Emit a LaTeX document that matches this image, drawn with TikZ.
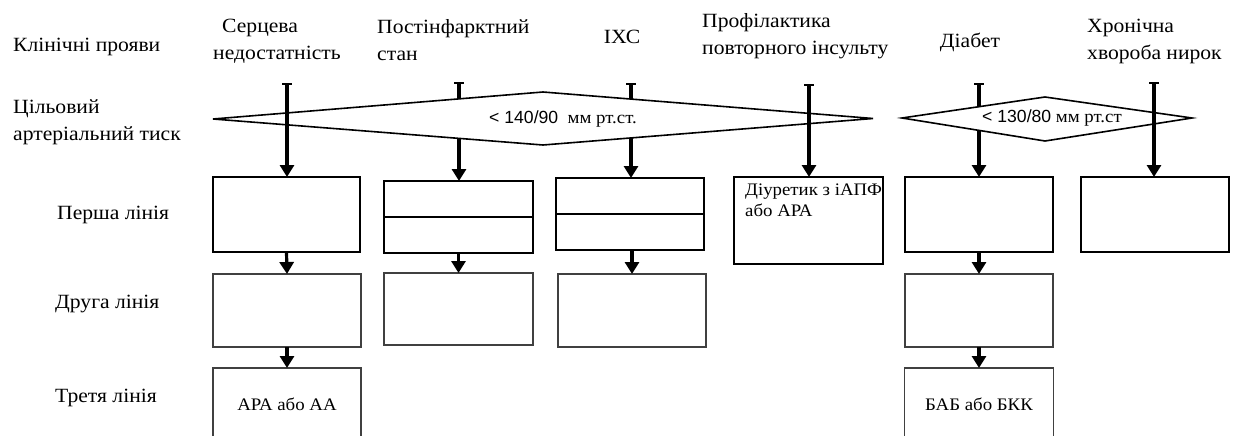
\documentclass[tikz,border=0pt]{standalone}
\usepackage{fontspec}
\setmainfont{Liberation Serif}[FakeStretch=1.07]
\newfontfamily\numfont{Liberation Sans}
\usetikzlibrary{arrows.meta}
\begin{document}
\begin{tikzpicture}[x=1pt,y=-1pt,
  lbl/.style={font=\fontsize{20.2}{27}\selectfont, inner sep=0pt, align=left},
  box/.style={draw=black, line width=1.3pt, inner sep=0pt, outer sep=0pt},
  boxg/.style={box, draw=black!75},
  btxt/.style={font=\fontsize{17.6}{21}\selectfont, inner sep=0pt},
  arr/.style={line width=3.2pt, -{Triangle[width=14pt,length=12pt]}},
  topline/.style={line width=3.2pt, {Bar[width=10pt,line width=1.8pt]}-{Triangle[width=14pt,length=12pt]}},
  dia/.style={draw, line width=1.6pt, fill=white, line join=miter}]
\clip (0,0) rectangle (1247,436);
\fill[white] (0,0) rectangle (1247,436);

% row labels
\node[lbl, anchor=west] (kp) at (13,47) {Клінічні прояви};
\node[lbl, anchor=west] (ct) at (13,122) {Цільовий\\артеріальний тиск};
\node[lbl, anchor=west] (l1) at (57,215) {Перша лінія};
\node[lbl, anchor=west] (l2) at (55,304) {Друга лінія};
\node[lbl, anchor=west] (l3) at (55,398) {Третя лінія};

% column headers
\node[lbl, anchor=west] (hA) at (213,41) {\hspace{9pt}Серцева\\недостатність};
\node[lbl, anchor=west] (hB) at (377,40) {Постінфарктний\\стан};
\node[lbl] (hC) at (622,37) {ІХС};
\node[lbl, anchor=west] (hD) at (702,36) {Профілактика\\повторного інсульту};
\node[lbl] (hE) at (970,42) {Діабет};
\node[lbl, anchor=west] (hF) at (1087,41) {Хронічна\\хвороба нирок};

% first line boxes
\node[box, minimum width=147pt, minimum height=75pt] (A1) at (286.5,214.5) {};
\node[box, minimum width=149pt, minimum height=72pt] (B1) at (458.5,217) {};
\node[box, minimum width=148pt, minimum height=72pt] (C1) at (630,214) {};
\node[box, minimum width=149pt, minimum height=87pt] (D1) at (808.5,220.5) {};
\node[box, minimum width=148pt, minimum height=75pt] (E1) at (979,214.5) {};
\node[box, minimum width=148pt, minimum height=75pt] (F1) at (1155,214.5) {};
\draw[line width=1.3pt] (B1.west) -- (B1.east);
\draw[line width=1.3pt] (C1.west) -- (C1.east);
\node[btxt, anchor=north west, align=left] (Dtxt) at (745,184) {Діуретик з іАПФ\\або АРА};

% second line boxes
\node[boxg, minimum width=148pt, minimum height=73pt] (A2) at (287,310.5) {};
\node[boxg, minimum width=149pt, minimum height=72pt] (B2) at (458.5,309) {};
\node[boxg, minimum width=148pt, minimum height=73pt] (C2) at (632,310.5) {};
\node[boxg, minimum width=148pt, minimum height=73pt] (E2) at (979,310.5) {};

% third line boxes
\node[boxg, minimum width=148pt, minimum height=72pt, btxt] (A3) at (287,404) {АРА або АА};
\node[boxg, minimum width=149pt, minimum height=72pt, btxt] (E3) at (979,404) {БАБ або БКК};

% top line start points
\coordinate (tA) at (287,83);
\coordinate (tB) at (459,82);
\coordinate (tC) at (631,83);
\coordinate (tD) at (809,84);
\coordinate (tE) at (979,83);
\coordinate (tF) at (1154,82);

% lines hidden by the diamonds
\draw[topline] (tB) -- (tB |- B1.north);
\draw[topline] (tC) -- (tC |- C1.north);
\draw[topline] (tE) -- (tE |- E1.north);

% target pressure diamonds
\draw[dia] (213,119) -- (543,92) -- (873,118.5) -- (543,145) -- cycle;
\node[btxt] (p1) at (563,119) {{\numfont < 140/90}\ \ мм рт.ст.};
\draw[dia] (902,118) -- (1045,97) -- (1192,118) -- (1045,141) -- cycle;
\node[btxt] (p2) at (1052,118) {{\numfont < 130/80} мм рт.ст};

% lines crossing the diamonds
\draw[topline] (tA) -- (tA |- A1.north);
\draw[topline] (tD) -- (tD |- D1.north);
\draw[topline] (tF) -- (tF |- F1.north);

% arrows between lines of therapy
\draw[arr] (A1.south) -- (A2.north);
\draw[arr] (B1.south) -- (B2.north);
\draw[arr] (C2.north |- C1.south) -- (C2.north);
\draw[arr] (E1.south) -- (E2.north);
\draw[arr] (A2.south) -- (A3.north);
\draw[arr] (E2.south) -- (E3.north);
\end{tikzpicture}
\end{document}
